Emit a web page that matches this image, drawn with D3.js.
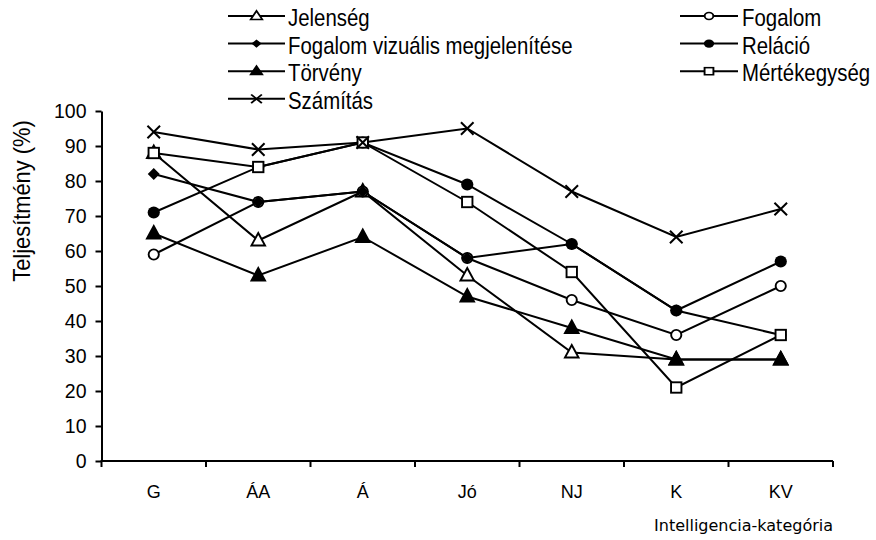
<!DOCTYPE html>
<html>
<head>
<meta charset="utf-8">
<script src="https://cdn.jsdelivr.net/npm/d3@7"></script>
<style>
  html, body { margin: 0; padding: 0; background: #fff; }
  svg { display: block; }
</style>
</head>
<body>
<svg id="chart" width="876" height="540"></svg>
<script>
// ---- data ----
const categories = ["G", "ÁA", "Á", "Jó", "NJ", "K", "KV"];
const jelenseg      = [88, 63, 77, 53, 31, 29, 29];
const fogalom       = [59, 74, 77, 58, 46, 36, 50];
const fogalomViz    = [82, 74, 77, 58, 62, 43, 36];
const relacio       = [71, 84, 91, 79, 62, 43, 57];
const torveny       = [65, 53, 64, 47, 38, 29, 29];
const mertekegyseg  = [88, 84, 91, 74, 54, 21, 36];
const szamitas      = [94, 89, 91, 95, 77, 64, 72];
const seriesNames = ["Jelenség", "Fogalom", "Fogalom vizuális megjelenítése", "Reláció", "Törvény", "Mértékegység", "Számítás"];
const seriesValues = [jelenseg, fogalom, fogalomViz, relacio, torveny, mertekegyseg, szamitas];
const yTicks = [0, 10, 20, 30, 40, 50, 60, 70, 80, 90, 100];
const yTitle = "Teljesítmény (%)";
const xTitle = "Intelligencia-kategória";

(function () {
// ---- styles ----
const markerTypes = ["triangleOpen", "circleOpen", "diamond", "circleFilled", "triangleFilled", "squareOpen", "cross"];
const sans = "'Liberation Sans', Arial, sans-serif";

const svg = d3.select("#chart");
const pLeft = 101.5, pRight = 833, pTop = 111, pBottom = 461;

const x = d3.scalePoint().domain(categories).range([pLeft, pRight]).padding(0.5);
const xb = d3.scaleBand().domain(categories).range([pLeft, pRight]);
const y = d3.scaleLinear().domain([0, 100]).range([pBottom, pTop]);

function drawMarker(g, type, s) {
  const sw = 1.9;
  switch (type) {
    case "triangleOpen":
    case "triangleFilled":
      g.append("path")
        .attr("d", `M0,${-7.5 * s}L${6.8 * s},${5 * s}L${-6.8 * s},${5 * s}Z`)
        .attr("fill", type === "triangleFilled" ? "#000" : "#fff")
        .attr("stroke", "#000").attr("stroke-width", sw).attr("stroke-linejoin", "miter");
      break;
    case "circleOpen":
      g.append("circle").attr("r", 5.1 * s)
        .attr("fill", "#fff").attr("stroke", "#000").attr("stroke-width", sw);
      break;
    case "circleFilled":
      g.append("circle").attr("r", 6.1 * s).attr("fill", "#000");
      break;
    case "diamond":
      g.append("path")
        .attr("d", `M0,${-6 * s}L${6 * s},0L0,${6 * s}L${-6 * s},0Z`)
        .attr("fill", "#000");
      break;
    case "squareOpen":
      g.append("rect").attr("x", -5.2 * s).attr("y", -5.2 * s)
        .attr("width", 10.4 * s).attr("height", 10.4 * s)
        .attr("fill", "#fff").attr("stroke", "#000").attr("stroke-width", sw);
      break;
    case "cross":
      g.append("path")
        .attr("d", `M${-6.3 * s},${-6.3 * s}L${6.3 * s},${6.3 * s}M${6.3 * s},${-6.3 * s}L${-6.3 * s},${6.3 * s}`)
        .attr("stroke", "#000").attr("stroke-width", 2).attr("fill", "none");
      break;
  }
}

// ---- axes ----
const yAxis = svg.append("g")
  .attr("transform", `translate(${pLeft},0)`)
  .call(d3.axisLeft(y).tickValues(yTicks).tickSize(6).tickSizeOuter(0).tickPadding(9));
yAxis.select(".domain").attr("stroke", "#000").attr("stroke-width", 2);
yAxis.selectAll(".tick line").attr("stroke", "#000").attr("stroke-width", 2);
yAxis.selectAll(".tick text")
  .attr("font-family", sans).attr("font-size", 19.5).attr("fill", "#000");

const xAxis = svg.append("g")
  .attr("transform", `translate(0,${pBottom})`)
  .call(d3.axisBottom(xb).tickSize(0).tickSizeOuter(0));
xAxis.select(".domain").attr("stroke", "#000").attr("stroke-width", 2)
  .attr("d", `M${pLeft - 1},0H${pRight}`);
xAxis.selectAll(".tick text")
  .attr("font-family", sans).attr("font-size", 18).attr("fill", "#000")
  .attr("y", 37).attr("dy", 0);
const boundaries = categories.map(c => xb(c)).concat([xb.range()[1]]);
xAxis.selectAll(".btick").data(boundaries).enter().append("line")
  .attr("x1", d => d).attr("x2", d => d)
  .attr("y1", 0).attr("y2", 6)
  .attr("stroke", "#000").attr("stroke-width", 2);

// axis titles
svg.append("text")
  .attr("transform", "translate(30,201) rotate(-90) scale(0.95,1)")
  .attr("text-anchor", "middle")
  .attr("font-family", sans).attr("font-size", 23).attr("fill", "#000")
  .text(yTitle);
svg.append("text")
  .attr("x", pRight).attr("y", 531)
  .attr("text-anchor", "end")
  .attr("font-family", "'DejaVu Sans', Verdana, sans-serif").attr("font-size", 16).attr("fill", "#000")
  .text(xTitle);

// ---- series lines ----
const line = d3.line()
  .x((d, i) => x(categories[i]))
  .y(d => y(d));
const plot = svg.append("g");
seriesValues.forEach(vals => {
  plot.append("path")
    .attr("d", line(vals))
    .attr("fill", "none").attr("stroke", "#000").attr("stroke-width", 2);
});
// ---- markers ----
seriesValues.forEach((vals, si) => {
  vals.forEach((v, i) => {
    const g = plot.append("g").attr("transform", `translate(${x(categories[i])},${y(v)})`);
    drawMarker(g, markerTypes[si], 1);
  });
});

// ---- legend ----
const legendCols = [
  { x1: 228, x2: 285, tx: 288 },
  { x1: 680, x2: 738, tx: 742 }
];
const legend = svg.append("g");
seriesNames.forEach((name, si) => {
  const col = legendCols[si % 2];
  const row = Math.floor(si / 2);
  const ly = 16 + row * 27.6;
  legend.append("line")
    .attr("x1", col.x1).attr("x2", col.x2).attr("y1", ly).attr("y2", ly)
    .attr("stroke", "#000").attr("stroke-width", 2);
  const mg = legend.append("g")
    .attr("transform", `translate(${(col.x1 + col.x2) / 2},${ly}) scale(1,0.8)`);
  drawMarker(mg, markerTypes[si], 0.85);
  legend.append("text")
    .attr("transform", `translate(${col.tx},${ly + 10}) scale(0.85,1)`)
    .attr("font-family", sans).attr("font-size", 24).attr("fill", "#000")
    .text(name);
});
})();
</script>
</body>
</html>
